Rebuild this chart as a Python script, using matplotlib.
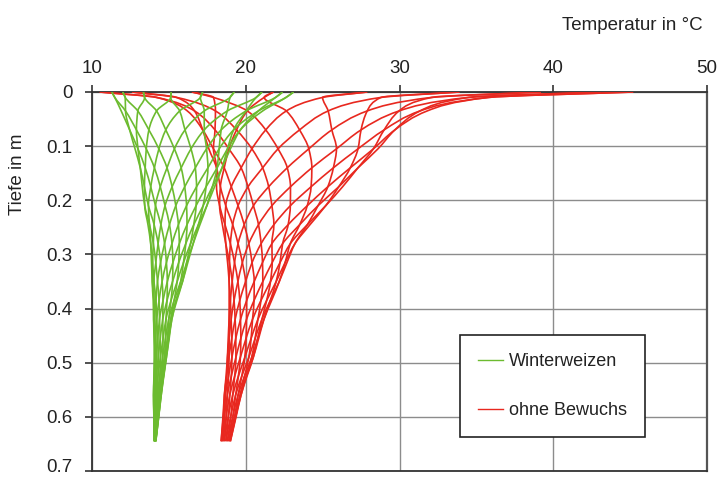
import numpy as np
import matplotlib
matplotlib.use("Agg")
import matplotlib.pyplot as plt
from matplotlib.lines import Line2D
from matplotlib.path import Path
from matplotlib.patches import PathPatch
from matplotlib.transforms import ScaledTranslation

plt.rcParams['font.family'] = ['Liberation Sans', 'DejaVu Sans']

# depth levels (m)
depth_m = [0, 0.01, 0.035, 0.07, 0.105, 0.14, 0.175, 0.21, 0.245, 0.28,
           0.315, 0.35, 0.385, 0.42, 0.455, 0.49, 0.525, 0.56, 0.595, 0.645]

# temperature (°C) per depth level (rows) for each of 18 profiles (columns)
ohne_bewuchs_T = [
    [27.9, 33.9, 39.2, 43.1, 45.2, 45.2, 43.1, 39.2, 33.9, 27.9, 21.8, 16.5, 12.6, 10.5, 10.5, 12.6, 16.5, 21.8],
    [25.0, 28.8, 32.1, 34.5, 35.8, 35.8, 34.5, 32.1, 28.8, 25.0, 21.2, 17.9, 15.5, 14.2, 14.2, 15.5, 17.9, 21.2],
    [22.64, 25.36, 27.9, 29.97, 31.33, 31.8, 31.33, 29.97, 27.9, 25.36, 22.64, 20.1, 18.03, 16.67, 16.2, 16.67, 18.03, 20.1],
    [21.3, 23.5, 25.6, 27.5, 29.0, 29.7, 29.7, 29.0, 27.5, 25.6, 23.5, 21.3, 19.4, 18.0, 17.2, 17.2, 18.0, 19.4],
    [20.4, 22.1, 24.1, 25.9, 27.3, 28.3, 28.6, 28.3, 27.3, 25.9, 24.1, 22.1, 20.4, 18.9, 17.9, 17.6, 17.9, 18.9],
    [19.7, 21.1, 22.7, 24.3, 25.7, 26.8, 27.3, 27.3, 26.8, 25.7, 24.3, 22.7, 21.1, 19.7, 18.6, 18.1, 18.1, 18.6],
    [19.06, 20.15, 21.49, 22.91, 24.25, 25.34, 26.05, 26.3, 26.05, 25.34, 24.25, 22.91, 21.49, 20.15, 19.06, 18.35, 18.1, 18.35],
    [18.7, 19.5, 20.5, 21.7, 22.9, 24.0, 24.7, 25.2, 25.2, 24.7, 24.0, 22.9, 21.7, 20.5, 19.5, 18.7, 18.3, 18.3],
    [18.65, 19.15, 19.9, 20.83, 21.83, 22.76, 23.51, 24.01, 24.18, 24.01, 23.51, 22.76, 21.83, 20.83, 19.9, 19.15, 18.65, 18.48],
    [18.7, 19.0, 19.5, 20.2, 21.0, 21.7, 22.4, 22.9, 23.2, 23.2, 22.9, 22.4, 21.7, 21.0, 20.2, 19.5, 19.0, 18.7],
    [18.82, 18.94, 19.27, 19.78, 20.41, 21.09, 21.72, 22.23, 22.56, 22.68, 22.56, 22.23, 21.72, 21.09, 20.41, 19.78, 19.27, 18.94],
    [18.92, 18.92, 19.12, 19.49, 19.99, 20.55, 21.11, 21.61, 21.98, 22.18, 22.18, 21.98, 21.61, 21.11, 20.55, 19.99, 19.49, 19.12],
    [19.0, 18.92, 19.0, 19.24, 19.61, 20.06, 20.54, 20.99, 21.36, 21.6, 21.68, 21.6, 21.36, 20.99, 20.54, 20.06, 19.61, 19.24],
    [19.05, 18.92, 18.92, 19.05, 19.31, 19.66, 20.05, 20.44, 20.79, 21.05, 21.18, 21.18, 21.05, 20.79, 20.44, 20.05, 19.66, 19.31],
    [19.09, 18.92, 18.86, 18.92, 19.09, 19.35, 19.68, 20.02, 20.35, 20.61, 20.78, 20.84, 20.78, 20.61, 20.35, 20.02, 19.68, 19.35],
    [19.10, 18.91, 18.81, 18.81, 18.91, 19.10, 19.36, 19.65, 19.94, 20.20, 20.39, 20.49, 20.49, 20.39, 20.20, 19.94, 19.65, 19.36],
    [19.06, 18.88, 18.76, 18.72, 18.76, 18.88, 19.06, 19.28, 19.52, 19.74, 19.92, 20.04, 20.08, 20.04, 19.92, 19.74, 19.52, 19.28],
    [18.96, 18.80, 18.67, 18.61, 18.61, 18.67, 18.80, 18.96, 19.15, 19.34, 19.50, 19.63, 19.69, 19.69, 19.63, 19.50, 19.34, 19.15],
    [18.89, 18.75, 18.63, 18.56, 18.53, 18.56, 18.63, 18.75, 18.89, 19.05, 19.19, 19.31, 19.38, 19.41, 19.38, 19.31, 19.19, 19.05],
    [18.70, 18.60, 18.51, 18.44, 18.40, 18.40, 18.44, 18.51, 18.60, 18.70, 18.80, 18.89, 18.96, 19.00, 19.00, 18.96, 18.89, 18.80],
]

winterweizen_T = [
    [17.2, 19.25, 21.06, 22.4, 23.11, 23.11, 22.4, 21.06, 19.25, 17.2, 15.15, 13.34, 12.0, 11.29, 11.29, 12.0, 13.34, 15.15],
    [17.05, 18.98, 20.68, 21.94, 22.62, 22.62, 21.94, 20.68, 18.98, 17.05, 15.12, 13.42, 12.16, 11.48, 11.48, 12.16, 13.42, 15.12],
    [15.7, 17.3, 18.8, 20.02, 20.82, 21.1, 20.82, 20.02, 18.8, 17.3, 15.7, 14.2, 12.98, 12.18, 11.9, 12.18, 12.98, 14.2],
    [14.8, 16.05, 17.3, 18.4, 19.21, 19.65, 19.65, 19.21, 18.4, 17.3, 16.05, 14.8, 13.7, 12.89, 12.45, 12.45, 12.89, 13.7],
    [14.35, 15.36, 16.44, 17.45, 18.27, 18.81, 19.0, 18.81, 18.27, 17.45, 16.44, 15.36, 14.35, 13.53, 12.99, 12.8, 12.99, 13.53],
    [14.06, 14.88, 15.8, 16.72, 17.54, 18.14, 18.46, 18.46, 18.14, 17.54, 16.72, 15.8, 14.88, 14.06, 13.46, 13.14, 13.14, 13.46],
    [13.82, 14.44, 15.21, 16.03, 16.8, 17.42, 17.83, 17.97, 17.83, 17.42, 16.8, 16.03, 15.21, 14.44, 13.82, 13.41, 13.27, 13.41],
    [13.67, 14.13, 14.75, 15.45, 16.15, 16.77, 17.23, 17.47, 17.47, 17.23, 16.77, 16.15, 15.45, 14.75, 14.13, 13.67, 13.43, 13.43],
    [13.74, 14.04, 14.48, 15.04, 15.62, 16.18, 16.62, 16.92, 17.02, 16.92, 16.62, 16.18, 15.62, 15.04, 14.48, 14.04, 13.74, 13.64],
    [13.82, 13.99, 14.3, 14.72, 15.2, 15.68, 16.1, 16.41, 16.58, 16.58, 16.41, 16.1, 15.68, 15.2, 14.72, 14.3, 13.99, 13.82],
    [13.87, 13.94, 14.15, 14.46, 14.84, 15.26, 15.64, 15.95, 16.16, 16.23, 16.16, 15.95, 15.64, 15.26, 14.84, 14.46, 14.15, 13.94],
    [13.92, 13.92, 14.03, 14.26, 14.56, 14.9, 15.24, 15.54, 15.77, 15.89, 15.89, 15.77, 15.54, 15.24, 14.9, 14.56, 14.26, 14.03],
    [14.03, 13.98, 14.03, 14.16, 14.36, 14.62, 14.88, 15.14, 15.34, 15.47, 15.52, 15.47, 15.34, 15.14, 14.88, 14.62, 14.36, 14.16],
    [14.08, 14.01, 14.01, 14.08, 14.21, 14.39, 14.6, 14.81, 14.99, 15.12, 15.19, 15.19, 15.12, 14.99, 14.81, 14.6, 14.39, 14.21],
    [14.15, 14.07, 14.04, 14.07, 14.15, 14.28, 14.44, 14.62, 14.78, 14.91, 14.99, 15.02, 14.99, 14.91, 14.78, 14.62, 14.44, 14.28],
    [14.19, 14.1, 14.06, 14.06, 14.1, 14.19, 14.31, 14.45, 14.59, 14.71, 14.8, 14.84, 14.84, 14.8, 14.71, 14.59, 14.45, 14.31],
    [14.19, 14.1, 14.05, 14.03, 14.05, 14.1, 14.19, 14.29, 14.41, 14.51, 14.6, 14.65, 14.67, 14.65, 14.6, 14.51, 14.41, 14.29],
    [14.16, 14.09, 14.03, 14.0, 14.0, 14.03, 14.09, 14.16, 14.25, 14.34, 14.41, 14.47, 14.5, 14.5, 14.47, 14.41, 14.34, 14.25],
    [14.16, 14.1, 14.06, 14.03, 14.02, 14.03, 14.06, 14.1, 14.16, 14.22, 14.28, 14.32, 14.35, 14.36, 14.35, 14.32, 14.28, 14.22],
    [14.1, 14.08, 14.07, 14.06, 14.05, 14.05, 14.06, 14.07, 14.08, 14.1, 14.12, 14.13, 14.14, 14.15, 14.15, 14.14, 14.13, 14.12],
]

x_ticks = [10, 20, 30, 40, 50]
y_ticks = [0, 0.1, 0.2, 0.3, 0.4, 0.5, 0.6, 0.7]
y_tick_labels = ["0", "0.1", "0.2", "0.3", "0.4", "0.5", "0.6", "0.7"]
series_labels = ["Winterweizen", "ohne Bewuchs"]

GREEN = "#6cbb2f"
RED = "#e8281f"


def smooth_path(ts, zs):
    """Smoothed line through the data points (shape-preserving cubic Bezier
    segments, T as a function of depth), like a 'smoothed line' chart style."""
    ts = np.asarray(ts, float)
    zs = np.asarray(zs, float)
    n = len(ts)
    h = np.diff(zs)
    d = np.diff(ts) / h
    m = np.zeros(n)
    m[0], m[-1] = d[0], d[-1]
    for k in range(1, n - 1):
        if d[k - 1] * d[k] <= 0:
            m[k] = 0.0
        else:
            w1 = 2 * h[k] + h[k - 1]
            w2 = h[k] + 2 * h[k - 1]
            m[k] = (w1 + w2) / (w1 / d[k - 1] + w2 / d[k])
    verts = [(ts[0], zs[0])]
    codes = [Path.MOVETO]
    for k in range(n - 1):
        verts += [(ts[k] + m[k] * h[k] / 3, zs[k] + h[k] / 3),
                  (ts[k + 1] - m[k + 1] * h[k] / 3, zs[k + 1] - h[k] / 3),
                  (ts[k + 1], zs[k + 1])]
        codes += [Path.CURVE4] * 3
    return Path(np.array(verts), codes)


fig = plt.figure(figsize=(7.18, 4.79), dpi=100)
ax = fig.add_axes([92 / 718, 1 - 471 / 479, (707 - 92) / 718, (471 - 92) / 479])

red = np.array(ohne_bewuchs_T)
green = np.array(winterweizen_T)
z = np.array(depth_m)

for data, col, zo in ((red, RED, 3), (green, GREEN, 4)):
    for i in range(data.shape[1]):
        ax.add_patch(PathPatch(smooth_path(data[:, i], z), fill=False, edgecolor=col,
                               lw=1.2, zorder=zo, joinstyle='round'))

ax.set_xlim(10, 50)
ax.set_ylim(0.7, 0)
ax.xaxis.tick_top()
ax.set_xticks(x_ticks)
ax.set_yticks(y_ticks)
ax.set_yticklabels(y_tick_labels)
ax.tick_params(axis='both', direction='out', length=5, width=1.2, colors='#333333',
               labelsize=13.5, labelcolor='#222222')
ax.tick_params(axis='x', pad=6)
ax.tick_params(axis='y', pad=9)
ax.grid(True, color='#8c8c8c', lw=1.0, zorder=1)
ax.set_axisbelow(True)
for side in ['left', 'top', 'bottom']:
    ax.spines[side].set_color('#333333')
    ax.spines[side].set_linewidth(1.3)
ax.spines['right'].set_color('#555555')
ax.spines['right'].set_linewidth(1.6)

# keep the lowest tick label inside the figure
last = ax.get_yticklabels()[-1]
last.set_transform(last.get_transform() + ScaledTranslation(0, 5 / 100, fig.dpi_scale_trans))

handles = [Line2D([0], [0], color=GREEN, lw=1.0), Line2D([0], [0], color=RED, lw=1.0)]
leg = ax.legend(handles, series_labels, loc='lower left', bbox_to_anchor=(0.598, 0.09),
                borderaxespad=0, fontsize=13, frameon=True, fancybox=False,
                edgecolor='#222222', facecolor='white', framealpha=1,
                handlelength=1.4, handletextpad=0.3, labelspacing=1.75, borderpad=1.0)
leg.get_frame().set_linewidth(1.2)
leg.set_zorder(10)
for t in leg.get_texts():
    t.set_color('#222222')

fig.text(703 / 718, 1 - 26 / 479, "Temperatur in °C", ha='right', va='center',
         fontsize=13.5, color='#222222')
fig.text(18 / 718, 1 - 174 / 479, "Tiefe in m", ha='center', va='center',
         rotation=90, fontsize=13.5, color='#222222')

fig.savefig("out.png", dpi=100)
